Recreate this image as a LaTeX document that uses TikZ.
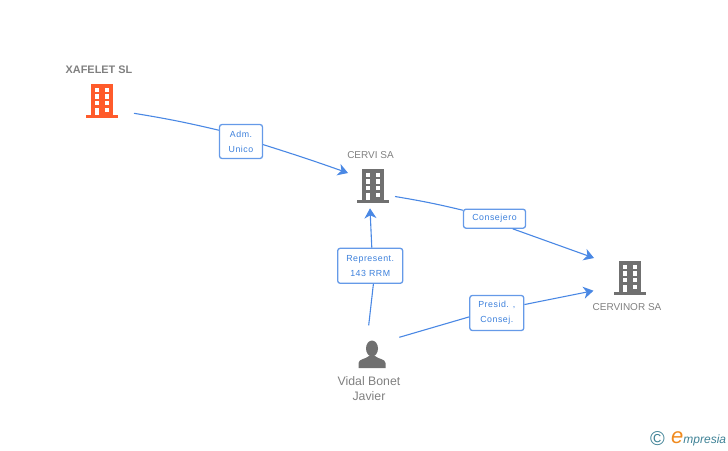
\documentclass[tikz,border=0pt]{standalone}
\usepackage{fontspec}
\setmainfont{Liberation Sans}
\usetikzlibrary{arrows.meta}
\definecolor{LinkBlue}{HTML}{4A88E4}
\definecolor{TextBlue}{HTML}{3C80DC}
\definecolor{IconGray}{HTML}{707070}
\definecolor{NameGray}{HTML}{808080}
\definecolor{IconOrange}{HTML}{FF5B2B}
\definecolor{LogoBlue}{HTML}{3F8296}
\definecolor{LogoOrange}{HTML}{F08A1E}
\tikzset{
	link/.style={LinkBlue, line width=1.1pt},
	linkend/.style={link, -{Stealth[length=10pt, width=12pt, inset=3pt]}},
	linkbox/.style={draw=LinkBlue!85!white, line width=1.3pt, rounded corners=2.5pt, fill=white, text=TextBlue, font=\fontsize{8.8}{15}\selectfont\addfontfeature{LetterSpace=6}, align=center, inner sep=0pt},
	entityname/.style={text=NameGray, font=\fontsize{10}{15}\selectfont, align=center, inner sep=0pt},
	pics/building/.style={code={
		\fill[#1] (-11,-17) rectangle (11,15);
		\fill[#1] (-16,14.3) rectangle (16,17);
		\foreach \Row in {-13.3,-6.7,-0.1} {
			\fill[white] (-7,\Row) rectangle ++(4.4,4.4);
			\fill[white] (2.5,\Row) rectangle ++(4.6,4.4);
		}
		\fill[white] (-7,6.6) rectangle (-2.6,14.3);
		\fill[white] (2.5,6.6) rectangle ++(4.6,4.4);
	}},
	pics/person/.style={code={
		\fill[#1] (0,-5.5) ellipse (6 and 8);
		\fill[#1] (-13.5,14) -- (-13.5,9) .. controls (-13.5,5) and (-6,5) .. (-3,2) -- (3,2) .. controls (6,5) and (13.5,5) .. (13.5,9) -- (13.5,14) -- cycle;
	}}
}
\begin{document}
\begin{tikzpicture}[x=1pt, y=-1pt]
	\useasboundingbox (0,0) rectangle (728,450);
	% ICONS
	\coordinate (xafelet) at (102,101);
	\coordinate (cervi) at (373,186);
	\coordinate (cervinor) at (630,278);
	\coordinate (vidal) at (372,354);
	\pic at (xafelet) {building=IconOrange};
	\pic at (cervi) {building=IconGray};
	\pic at (cervinor) {building=IconGray};
	\pic at (vidal) {person=IconGray};
	% NAMES
	\node[entityname, font=\fontsize{10.9}{15}\selectfont\bfseries] (xafeletname) at (99,69.5) {XAFELET SL};
	\node[entityname] (cerviname) at (370.5,155) {CERVI SA};
	\node[entityname] (cervinorname) at (627,306.7) {CERVINOR SA};
	\node[entityname, font=\fontsize{12.3}{15}\selectfont] (vidalname) at (369,389) {Vidal Bonet\\Javier};
	% LABELS
	\node[linkbox, minimum width=43pt, minimum height=34pt] (admunico) at (241,141.5) {Adm.\\Unico};
	\node[linkbox, minimum width=62pt, minimum height=19pt] (consejero) at (494.5,218.7) {Consejero};
	\node[linkbox, minimum width=65pt, minimum height=35pt] (represent) at (370.2,265.8) {Represent.\\143 RRM};
	\node[linkbox, minimum width=54pt, minimum height=35pt] (presid) at (496.8,313) {Presid. ,\\Consej.};
	% LINKS
	\draw[link] ([shift={(32,12.3)}]xafelet) to[bend left=2] (admunico.153);
	\draw[linkend] (admunico.-8) to[bend left=1] ([shift={(-25,-13)}]cervi);
	\draw[link] ([shift={(22,10.5)}]cervi) to[bend left=2] (consejero.165);
	\draw[linkend] (consejero.-29) -- ([shift={(-36,-20)}]cervinor);
	\draw[link] ([shift={(-3.3,-28.7)}]vidal) -- (represent.-80);
	\draw[linkend] (represent.85) -- ([shift={(-3,22.3)}]cervi);
	\draw[link] ([shift={(27.3,-16.7)}]vidal) -- (presid.188);
	\draw[linkend] (presid.17) -- ([shift={(-36.5,12.7)}]cervinor);
	% LOGO
	\node[text=LogoBlue, font=\fontsize{20}{20}\selectfont, inner sep=0pt] (logomark) at (657.5,438.5) {©};
	\node[text=LogoBlue, font=\fontsize{12}{15}\selectfont\itshape, inner sep=0pt, anchor=base west] (logotext) at (671,443) {{\color{LogoOrange}\fontsize{22}{15}\selectfont e}mpresia};
\end{tikzpicture}
\end{document}
